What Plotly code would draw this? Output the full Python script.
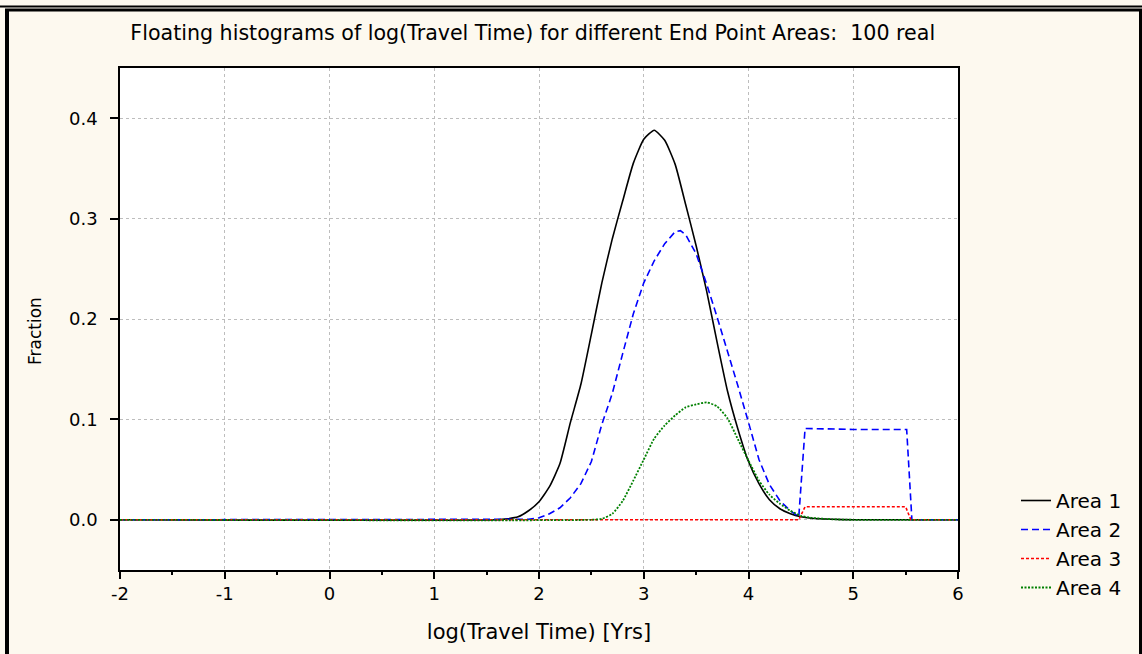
import plotly.graph_objects as go

# ---- data ----
area1_x = [-2.0, 1.6, 1.7, 1.8, 1.9, 2.0, 2.1, 2.2, 2.3, 2.4, 2.5, 2.6, 2.7, 2.8, 2.9, 3.0,
           3.1, 3.2, 3.3, 3.4, 3.5, 3.6, 3.7, 3.8, 3.9, 4.0, 4.1, 4.2, 4.3, 4.4, 4.5, 4.6,
           4.8, 5.0, 6.0]
area1_y = [0.0, 0.0, 0.001, 0.003, 0.009, 0.018, 0.033, 0.056, 0.097, 0.135, 0.185, 0.236,
           0.280, 0.318, 0.355, 0.379, 0.388, 0.378, 0.354, 0.314, 0.273, 0.228, 0.177,
           0.128, 0.090, 0.058, 0.036, 0.020, 0.011, 0.006, 0.003, 0.0015, 0.0005, 0.0, 0.0]

area2_x = [-2.0, 1.8, 1.9, 2.0, 2.1, 2.2, 2.3, 2.4, 2.5, 2.6, 2.7, 2.8, 2.9, 3.0, 3.1, 3.2,
           3.3, 3.35, 3.4, 3.5, 3.6, 3.7, 3.8, 3.9, 4.0, 4.1, 4.2, 4.3, 4.4, 4.48, 4.54,
           5.0, 5.51, 5.56, 6.0]
area2_y = [0.0, 0.0, 0.0005, 0.002, 0.006, 0.012, 0.022, 0.036, 0.058, 0.095, 0.126, 0.166,
           0.205, 0.236, 0.258, 0.275, 0.287, 0.288, 0.284, 0.265, 0.235, 0.202, 0.168,
           0.133, 0.097, 0.060, 0.035, 0.019, 0.009, 0.003, 0.091, 0.090, 0.090, 0.0, 0.0]

area3_x = [-2.0, 4.48, 4.54, 5.50, 5.55, 6.0]
area3_y = [0.0, 0.0, 0.013, 0.013, 0.0, 0.0]

area4_x = [-2.0, 2.5, 2.6, 2.7, 2.8, 2.9, 3.0, 3.1, 3.2, 3.3, 3.4, 3.5, 3.6, 3.7, 3.8, 3.9,
           4.0, 4.1, 4.2, 4.3, 4.4, 4.5, 4.6, 4.8, 5.0, 6.0]
area4_y = [0.0, 0.0, 0.001, 0.006, 0.019, 0.039, 0.060, 0.081, 0.094, 0.104, 0.112, 0.115,
           0.117, 0.113, 0.101, 0.080, 0.059, 0.039, 0.025, 0.016, 0.009, 0.004, 0.002,
           0.0005, 0.0, 0.0]

series_names = ["Area 1", "Area 2", "Area 3", "Area 4"]
x_ticks = [-2, -1, 0, 1, 2, 3, 4, 5, 6]
x_tick_text = ["-2", "-1", "0", "1", "2", "3", "4", "5", "6"]
y_ticks = [0.0, 0.1, 0.2, 0.3, 0.4]
y_tick_text = ["0.0", "0.1", "0.2", "0.3", "0.4"]

FONT = "DejaVu Sans, Liberation Sans, Arial, sans-serif"
fig = go.Figure()
fig.add_trace(go.Scatter(x=area1_x, y=area1_y, mode="lines", name=series_names[0],
                         line=dict(color="black", width=1.6, dash="solid",
                                   shape="spline", smoothing=0.5)))
fig.add_trace(go.Scatter(x=area2_x, y=area2_y, mode="lines", name=series_names[1],
                         line=dict(color="#0000ff", width=1.6, dash="7px,4px")))
fig.add_trace(go.Scatter(x=area3_x, y=area3_y, mode="lines", name=series_names[2],
                         line=dict(color="#ff0000", width=1.6, dash="3px,2px")))
fig.add_trace(go.Scatter(x=area4_x, y=area4_y, mode="lines", name=series_names[3],
                         line=dict(color="#008000", width=1.8, dash="2px,1.5px",
                                   shape="spline", smoothing=0.5)))

# outer frame (paper coordinates relative to plot area 120..958 x 68..570 px)
def px_x(p):
    return (p - 120) / 838.0

def px_y(p):
    return (570 - p) / 502.0

shapes = [
    dict(type="line", xref="paper", yref="paper", x0=px_x(-5), x1=px_x(1150),
         y0=px_y(6.5), y1=px_y(6.5), line=dict(color="black", width=2)),
    dict(type="line", xref="paper", yref="paper", x0=px_x(5), x1=px_x(1150),
         y0=px_y(10), y1=px_y(10), line=dict(color="black", width=3)),
    dict(type="line", xref="paper", yref="paper", x0=px_x(7), x1=px_x(7),
         y0=px_y(9), y1=px_y(660), line=dict(color="black", width=4)),
    dict(type="line", xref="paper", yref="paper", x0=px_x(1140.5), x1=px_x(1140.5),
         y0=px_y(9), y1=px_y(660), line=dict(color="black", width=3)),
]

fig.update_layout(
    width=1142, height=654,
    paper_bgcolor="#fdf9ef", plot_bgcolor="white",
    margin=dict(l=120, r=184, t=68, b=84),
    font=dict(family=FONT, size=18, color="black"),
    title=dict(text="Floating histograms of log(Travel Time) for different End Point Areas:  100 real",
               x=0.4665, xanchor="center", y=1 - 33 / 654, yanchor="middle",
               font=dict(family=FONT, size=20.6, color="black")),
    showlegend=True,
    legend=dict(x=px_x(1016), y=px_y(481), xanchor="left", yanchor="top",
                bgcolor="rgba(0,0,0,0)", font=dict(family=FONT, size=20, color="black"),
                tracegroupgap=0),
    shapes=shapes,
    annotations=[dict(text="Fraction", xref="paper", yref="paper", x=px_x(35), y=px_y(331),
                      xanchor="center", yanchor="middle", textangle=-90, showarrow=False,
                      font=dict(family=FONT, size=17, color="black"))],
)
fig.update_xaxes(range=[-2, 6], tickmode="array", tickvals=x_ticks, ticktext=x_tick_text,
                 ticks="outside", ticklen=7, tickwidth=1.5, tickcolor="black",
                 showline=True, linecolor="black", linewidth=1.5, mirror=True,
                 showgrid=True, gridcolor="#bdbdbd", griddash="dot", gridwidth=1,
                 zeroline=False,
                 minor=dict(tickvals=[-1.5, -0.5, 0.5, 1.5, 2.5, 3.5, 4.5, 5.5],
                            ticks="outside", ticklen=3, tickwidth=1.5, tickcolor="black",
                            showgrid=False),
                 title=dict(text="log(Travel Time) [Yrs]", standoff=21,
                            font=dict(family=FONT, size=21)),
                 tickfont=dict(family=FONT, size=18))
fig.update_yaxes(range=[-0.05, 0.45], tickmode="array", tickvals=y_ticks, ticktext=y_tick_text,
                 ticks="outside", ticklen=8, tickwidth=1.5, tickcolor="black",
                 showline=True, linecolor="black", linewidth=1.5, mirror=True,
                 showgrid=True, gridcolor="#bdbdbd", griddash="dot", gridwidth=1,
                 zeroline=False, ticklabelstandoff=9,
                 tickfont=dict(family=FONT, size=18))

fig.write_html("out.html", config={"displayModeBar": False},
               post_script="document.body.style.margin='0';document.body.style.padding='0';"
                           "document.body.style.background='#fdf9ef';")
